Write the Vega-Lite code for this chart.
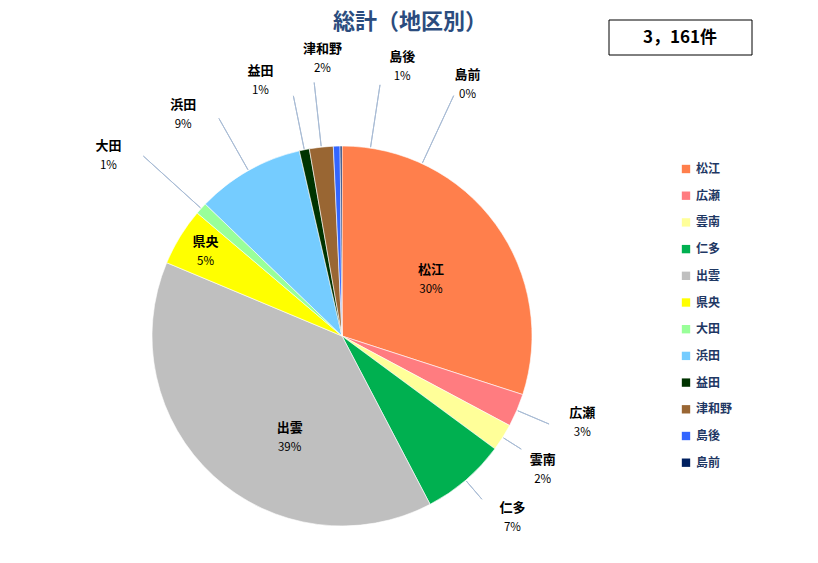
{
  "$schema": "https://vega.github.io/schema/vega-lite/v6.json",
  "width": 684,
  "height": 380,
  "autosize": {"type": "none"},
  "padding": {"left": 0, "top": 146, "right": 134, "bottom": 37},
  "background": "white",
  "title": {"text": "総計（地区別）", "font": "Noto Sans CJK JP", "fontSize": 22, "fontWeight": "bold", "color": "#2B4C7E", "anchor": "middle", "frame": "group", "dx": 68, "offset": -14},
  "config": {"view": {"stroke": null}},
  "data": {"values": [
    {"i": 1, "region": "松江", "count": 948},
    {"i": 2, "region": "広瀬", "count": 89},
    {"i": 3, "region": "雲南", "count": 73},
    {"i": 4, "region": "仁多", "count": 228},
    {"i": 5, "region": "出雲", "count": 1232},
    {"i": 6, "region": "県央", "count": 155},
    {"i": 7, "region": "大田", "count": 32},
    {"i": 8, "region": "浜田", "count": 290},
    {"i": 9, "region": "益田", "count": 27},
    {"i": 10, "region": "津和野", "count": 64},
    {"i": 11, "region": "島後", "count": 18},
    {"i": 12, "region": "島前", "count": 5}
  ]},
  "transform": [
    {"joinaggregate": [{"op": "sum", "field": "count", "as": "total"}]},
    {"calculate": "datum.count / datum.total", "as": "pct"}
  ],
  "layer": [
    {
      "mark": {"type": "arc", "radius": 190, "stroke": "white", "strokeWidth": 0.6},
      "encoding": {
        "theta": {"field": "count", "type": "quantitative", "stack": true},
        "order": {"field": "i", "type": "quantitative"},
        "color": {
          "field": "region", "type": "nominal",
          "scale": {
            "domain": ["松江", "広瀬", "雲南", "仁多", "出雲", "県央", "大田", "浜田", "益田", "津和野", "島後", "島前"],
            "range": ["#FF7F4C", "#FF7C80", "#FFFF99", "#00B050", "#BFBFBF", "#FFFF00", "#99FF99", "#75CCFF", "#003300", "#996633", "#3366FF", "#002060"]
          },
          "legend": {"orient": "none", "legendX": 680, "legendY": 17, "title": null, "symbolType": "square", "symbolSize": 70, "symbolStrokeWidth": 0, "labelFont": "Noto Sans CJK JP", "labelFontSize": 12, "labelFontWeight": "bold", "labelColor": "#1F3864", "rowPadding": 14.7}
        }
      }
    },
    {
      "mark": {"type": "arc", "fill": null, "fillOpacity": 0, "stroke": "#A9BCD5", "strokeWidth": 1, "padAngle": 0.7,
        "radius2": 191,
        "radius": {"expr": "[0,225,212,215,0,0,268,250,245,255,254,265][datum.i-1]"},
        "thetaOffset": {"expr": "[0,0,0,0,0,0,0,0,0,0,0.178,0.44][datum.i-1]"},
        "theta2Offset": {"expr": "[0,0,0,0,0,0,0,0,0,0,0.178,0.44][datum.i-1]"},
        "strokeOpacity": {"expr": "indexof([1,5,6], datum.i) >= 0 ? 0 : 1"}},
      "encoding": {
        "theta": {"field": "count", "type": "quantitative", "stack": true},
        "order": {"field": "i", "type": "quantitative"}
      }
    },
    {
      "mark": {"type": "text", "font": "Noto Sans CJK JP", "fontSize": 13, "fontWeight": "bold", "color": "#000000",
        "radius": {"expr": "[110,248,248,248,110,160,280,280,280,280,280,280][datum.i-1]"},
        "dx": {"expr": "[0,12,-9,9,22,0,-26,-21,-26,11,68,127][datum.i-1]"},
        "dy": {"expr": "[9,-10,2,-6,21,0,8,23,19,1,11,29][datum.i-1] - 10"}},
      "encoding": {
        "theta": {"field": "count", "type": "quantitative", "stack": true},
        "order": {"field": "i", "type": "quantitative"},
        "text": {"field": "region", "type": "nominal"}
      }
    },
    {
      "mark": {"type": "text", "font": "Noto Sans CJK JP", "fontSize": 11.5, "color": "#000000",
        "radius": {"expr": "[110,248,248,248,110,160,280,280,280,280,280,280][datum.i-1]"},
        "dx": {"expr": "[0,12,-9,9,22,0,-26,-21,-26,11,68,127][datum.i-1]"},
        "dy": {"expr": "[9,-10,2,-6,21,0,8,23,19,1,11,29][datum.i-1] + 10"}},
      "encoding": {
        "theta": {"field": "count", "type": "quantitative", "stack": true},
        "order": {"field": "i", "type": "quantitative"},
        "text": {"field": "pct", "type": "quantitative", "format": ".0%"}
      }
    },
    {
      "transform": [
        {"aggregate": [{"op": "sum", "field": "count", "as": "sum"}]},
        {"calculate": "replace(format(datum.sum, ','), ',', '，') + '件'", "as": "lbl"}
      ],
      "layer": [
        {"mark": {"type": "rect", "fill": "white", "stroke": "black", "strokeWidth": 1},
         "encoding": {"x": {"value": 609}, "x2": {"value": 752}, "y": {"value": -126}, "y2": {"value": -91}}},
        {"mark": {"type": "text", "font": "Noto Sans CJK JP", "fontSize": 17, "fontWeight": "bold", "color": "#000000"},
         "encoding": {"text": {"field": "lbl", "type": "nominal"}, "x": {"value": 680}, "y": {"value": -108}}}
      ]
    }
  ]
}
